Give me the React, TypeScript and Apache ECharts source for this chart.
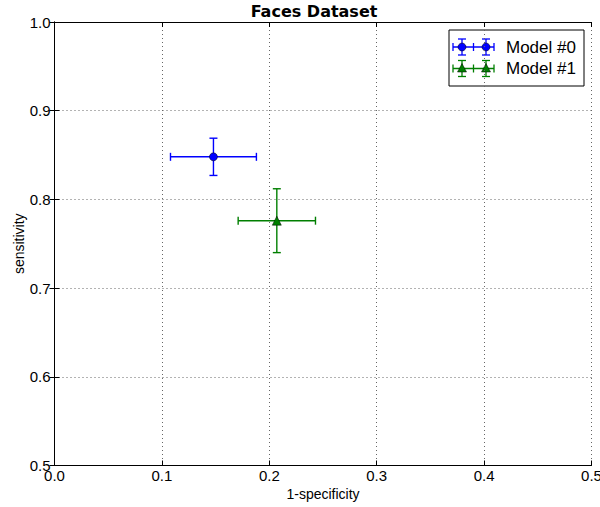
import React, { useEffect, useRef } from "react";
import * as echarts from "echarts";

const modelNames = ["Model #0", "Model #1"];
const xValues = [0.148, 0.207]; // 1-specificity
const yValues = [0.848, 0.776]; // sensitivity
const xErrors = [0.04, 0.036];
const yErrors = [0.021, 0.036];
const colors = ["#0000ff", "#007f00"];
const markers = ["circle", "triangle"];
const xTicks = [0, 0.1, 0.2, 0.3, 0.4, 0.5];
const yTicks = [0.5, 0.6, 0.7, 0.8, 0.9, 1.0];

const FONT = "Liberation Sans, Arial, sans-serif";

export default function App() {
  const ref = useRef<HTMLDivElement>(null);
  useEffect(() => {
    if (!ref.current) return;
    const chart = echarts.init(ref.current, null, { renderer: "svg" });
    const gridLeft = 54.5;
    const gridTop = 22;
    const gridW = 537;
    const gridH = 443.5;

    const axisCommon = {
      axisLine: { show: true, lineStyle: { color: "#000", width: 1 } },
      axisTick: { show: true, inside: true, length: 5, lineStyle: { color: "#000", width: 1 } },
    };
    const splitDotted = { show: true, lineStyle: { color: "#666", width: 1, type: [1, 3] } };

    const series: any[] = [];
    modelNames.forEach((name, i) => {
      series.push({
        type: "custom",
        name: name + " err",
        xAxisIndex: 0,
        yAxisIndex: 0,
        z: 3,
        data: [[xValues[i], yValues[i], xErrors[i], yErrors[i]]],
        renderItem: (params: any, api: any) => {
          const x = api.value(0);
          const y = api.value(1);
          const xe = api.value(2);
          const ye = api.value(3);
          const pL = api.coord([x - xe, y]);
          const pR = api.coord([x + xe, y]);
          const pT = api.coord([x, y + ye]);
          const pB = api.coord([x, y - ye]);
          const cap = 4;
          const st = { stroke: colors[i], lineWidth: 1.4 };
          return {
            type: "group",
            children: [
              { type: "line", shape: { x1: pL[0], y1: pL[1], x2: pR[0], y2: pR[1] }, style: st },
              { type: "line", shape: { x1: pL[0], y1: pL[1] - cap, x2: pL[0], y2: pL[1] + cap }, style: st },
              { type: "line", shape: { x1: pR[0], y1: pR[1] - cap, x2: pR[0], y2: pR[1] + cap }, style: st },
              { type: "line", shape: { x1: pT[0], y1: pT[1], x2: pB[0], y2: pB[1] }, style: st },
              { type: "line", shape: { x1: pT[0] - cap, y1: pT[1], x2: pT[0] + cap, y2: pT[1] }, style: st },
              { type: "line", shape: { x1: pB[0] - cap, y1: pB[1], x2: pB[0] + cap, y2: pB[1] }, style: st },
            ],
          };
        },
      });
      series.push({
        type: "scatter",
        name,
        xAxisIndex: 0,
        yAxisIndex: 0,
        z: 4,
        symbol: markers[i],
        symbolSize: i === 0 ? 8 : 9,
        itemStyle: { color: colors[i], borderColor: "#000", borderWidth: 0.5, opacity: 1 },
        data: [[xValues[i], yValues[i]]],
      });
    });

    // legend drawn as graphic
    const legendChildren: any[] = [];
    const lx0 = 449, ly0 = 30, lw = 135, lh = 56;
    legendChildren.push({
      type: "rect",
      shape: { x: lx0, y: ly0, width: lw, height: lh },
      style: { fill: "#fff", stroke: "#000", lineWidth: 1 },
    });
    modelNames.forEach((name, i) => {
      const cy = 47 + i * 21.5;
      const st = { stroke: colors[i], lineWidth: 1.3 };
      legendChildren.push({ type: "line", shape: { x1: 453, y1: cy, x2: 494, y2: cy }, style: st });
      [453, 473.5, 494].forEach((cx) => {
        legendChildren.push({ type: "line", shape: { x1: cx, y1: cy - 4, x2: cx, y2: cy + 4 }, style: st });
      });
      [462, 486].forEach((mx) => {
        legendChildren.push({ type: "line", shape: { x1: mx, y1: cy - 8, x2: mx, y2: cy + 8 }, style: st });
        legendChildren.push({ type: "line", shape: { x1: mx - 4, y1: cy - 8, x2: mx + 4, y2: cy - 8 }, style: st });
        legendChildren.push({ type: "line", shape: { x1: mx - 4, y1: cy + 8, x2: mx + 4, y2: cy + 8 }, style: st });
        if (markers[i] === "circle") {
          legendChildren.push({
            type: "circle",
            shape: { cx: mx, cy, r: 4 },
            style: { fill: colors[i], stroke: "#000", lineWidth: 0.5 },
          });
        } else {
          legendChildren.push({
            type: "polygon",
            shape: { points: [[mx, cy - 5], [mx - 4.5, cy + 3.5], [mx + 4.5, cy + 3.5]] },
            style: { fill: colors[i], stroke: "#000", lineWidth: 0.5 },
          });
        }
      });
      legendChildren.push({
        type: "text",
        x: 506,
        y: cy,
        style: {
          text: name,
          font: `17px ${FONT}`,
          fill: "#000",
          textVerticalAlign: "middle",
          textAlign: "left",
        },
      });
    });

    chart.setOption({
      animation: false,
      backgroundColor: "#fff",
      grid: {
        left: gridLeft,
        top: gridTop,
        width: gridW,
        height: gridH,
        containLabel: false,
        outerBoundsMode: "none",
      },
      xAxis: [
        {
          type: "value",
          position: "bottom",
          min: xTicks[0],
          max: xTicks[xTicks.length - 1],
          interval: 0.1,
          name: "1-specificity",
          nameLocation: "middle",
          nameGap: 21,
          nameTextStyle: { fontFamily: FONT, fontSize: 14, color: "#000" },
          ...axisCommon,
          axisLabel: {
            show: true,
            margin: 2,
            fontFamily: FONT,
            fontSize: 15,
            color: "#000",
            hideOverlap: false,
            formatter: (v: number) => v.toFixed(1),
          },
          splitLine: splitDotted,
        },
        {
          type: "value",
          position: "top",
          min: xTicks[0],
          max: xTicks[xTicks.length - 1],
          interval: 0.1,
          ...axisCommon,
          axisLabel: { show: false },
          splitLine: { show: false },
        },
      ],
      yAxis: [
        {
          type: "value",
          position: "left",
          min: yTicks[0],
          max: yTicks[yTicks.length - 1],
          interval: 0.1,
          name: "sensitivity",
          nameLocation: "middle",
          nameGap: 29,
          nameMoveOverlap: false,
          nameTextStyle: { fontFamily: FONT, fontSize: 14, color: "#000" },
          ...axisCommon,
          axisLabel: {
            show: true,
            margin: 4,
            fontFamily: FONT,
            fontSize: 15,
            color: "#000",
            hideOverlap: false,
            formatter: (v: number) => v.toFixed(1),
          },
          splitLine: splitDotted,
        },
        {
          type: "value",
          position: "right",
          min: yTicks[0],
          max: yTicks[yTicks.length - 1],
          interval: 0.1,
          ...axisCommon,
          axisLabel: { show: false },
          splitLine: { show: false },
        },
      ],
      graphic: [
        {
          type: "text",
          x: 314,
          y: 11,
          style: {
            text: "Faces Dataset",
            font: "bold 16px DejaVu Sans, sans-serif",
            fill: "#000",
            textAlign: "center",
            textVerticalAlign: "middle",
          },
        },
        { type: "group", z: 100, children: legendChildren },
      ],
      series,
    });
    return () => chart.dispose();
  }, []);
  return (
    <div
      ref={ref}
      style={{ position: "fixed", left: 0, top: 0, width: 600, height: 507 }}
    />
  );
}
